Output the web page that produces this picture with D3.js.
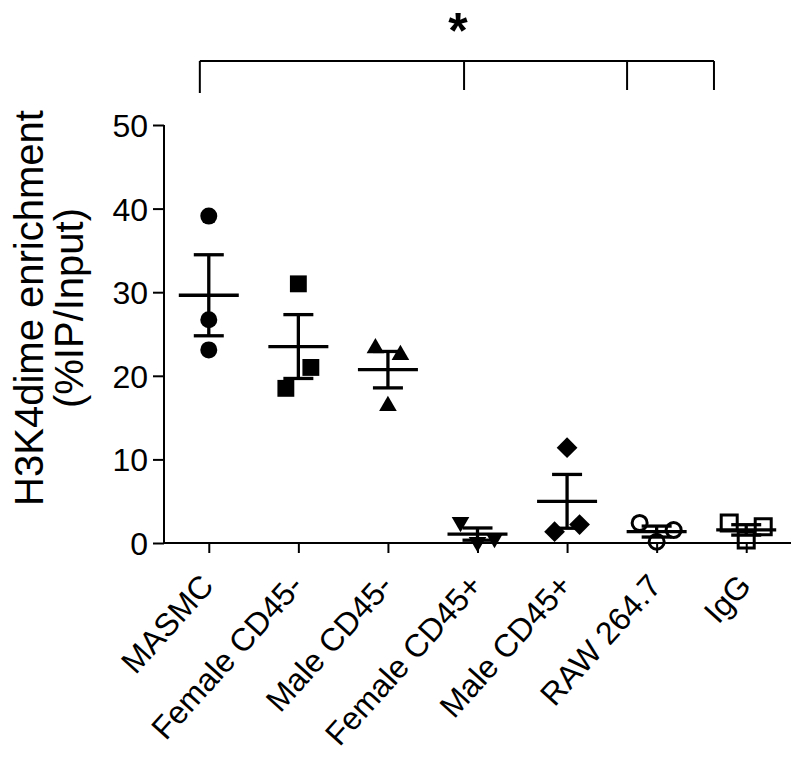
<!DOCTYPE html>
<html><head><meta charset="utf-8">
<script src="https://cdn.jsdelivr.net/npm/d3@7"></script>
<style>body{margin:0;background:#fff}svg{display:block}text{font-family:"Liberation Sans",Arial,sans-serif;fill:#000}</style>
</head><body><svg id="c" width="800" height="758"></svg>
<script>
const categories = ["MASMC","Female CD45-","Male CD45-","Female CD45+","Male CD45+","RAW 264.7","IgG"];
const values = [
  [39.1, 26.7, 23.1],
  [31.0, 18.5, 21.0],
  [23.3, 22.5, 16.4],
  [0.1, 2.5, 0.6],
  [11.4, 1.35, 2.2],
  [0.15, 2.4, 1.55],
  [0.35, 2.4, 1.95]
];
const markers = ["circle","square","triangle","triangleDown","diamond","circleOpen","squareOpen"];
const yTicks = [0, 10, 20, 30, 40, 50];
const yTitle = ["H3K4dime enrichment", "(%IP/Input)"];
const bracketAt = [-0.1, 2.85, 4.67, 5.64];   // category index units
const significance = "*";

const svg = d3.select("#c");
const x = d3.scalePoint().domain(categories).range([164, 791]).padding(0.5);
const xi = d3.scaleLinear().domain([0, categories.length - 1]).range([x(categories[0]), x(categories[categories.length-1])]);
const y = d3.scaleLinear().domain([0, 50]).range([543, 125]);

// axes
const yAxis = svg.append("g").attr("transform", "translate(164,0)")
  .call(d3.axisLeft(y).tickValues(yTicks).tickSize(11).tickSizeOuter(0).tickPadding(5));
yAxis.select(".domain").attr("stroke", "#000").attr("stroke-width", 2).attr("d", `M0,${y(0)}V${y(50)}`);
yAxis.selectAll(".tick line").attr("stroke", "#000").attr("stroke-width", 2);
yAxis.selectAll(".tick text").style("font-size", "32px").attr("dy", "0.36em");

const xAxis = svg.append("g").attr("transform", `translate(0,${y(0)})`)
  .call(d3.axisBottom(x).tickSize(10).tickSizeOuter(0));
xAxis.select(".domain").attr("stroke", "#000").attr("stroke-width", 2).attr("d", "M164,0H791");
xAxis.selectAll(".tick line").attr("stroke", "#000").attr("stroke-width", 2);
xAxis.selectAll(".tick text")
  .style("font-size", "32px")
  .attr("text-anchor", "end")
  .attr("dy", null).attr("y", 0)
  .attr("transform", "translate(6,44) rotate(-48)");

// y title
const tt = svg.append("text").attr("transform", "translate(0,308) rotate(-90)").attr("text-anchor", "middle").style("font-size", "40px");
yTitle.forEach((t, i) => tt.append("tspan").attr("x", 0).attr("y", 43 + i * 40).text(t));

// jitter layout (clusters of overlapping points spread horizontally, in data order)
const thresh = 25;
const points = [];
values.forEach((vals, gi) => {
  const idx = vals.map((v, i) => i).sort((a, b) => vals[b] - vals[a]);
  const clusters = [];
  idx.forEach(i => {
    const last = clusters[clusters.length - 1];
    if (last && Math.abs(y(vals[i]) - y(vals[last[last.length - 1]])) < thresh) last.push(i);
    else clusters.push([i]);
  });
  clusters.forEach(cl => {
    cl.sort((a, b) => a - b);
    const n = cl.length;
    cl.forEach((i, k) => {
      let off = 0;
      if (n % 2 === 1) { if (k > 0) off = (k % 2 === 1 ? -1 : 1) * Math.ceil(k / 2) * 17; }
      else { off = (k % 2 === 0 ? -1 : 1) * (Math.floor(k / 2) + 0.5) * 25; }
      points.push({g: gi, v: vals[i], dx: off});
    });
  });
});

const sym = {
  circle: {type: d3.symbolCircle, size: 227, fill: true, rot: 0},
  square: {type: d3.symbolSquare, size: 285, fill: true, rot: 0},
  triangle: {type: d3.symbolTriangle, size: 135, fill: true, rot: 0},
  triangleDown: {type: d3.symbolTriangle, size: 135, fill: true, rot: 180},
  diamond: {type: d3.symbolSquare, size: 215, fill: true, rot: 45},
  circleOpen: {type: d3.symbolCircle, size: 177, fill: false, rot: 0},
  squareOpen: {type: d3.symbolSquare, size: 256, fill: false, rot: 0}
};

svg.append("g").selectAll("path").data(points).join("path")
  .attr("d", d => d3.symbol(sym[markers[d.g]].type, sym[markers[d.g]].size)())
  .attr("transform", d => `translate(${x(categories[d.g]) + d.dx},${y(d.v)}) rotate(${sym[markers[d.g]].rot})`)
  .attr("fill", d => sym[markers[d.g]].fill ? "#000" : "none")
  .attr("stroke", "#000")
  .attr("stroke-width", d => sym[markers[d.g]].fill ? 0 : 3);

// mean ± SEM
const stats = values.map((vals, gi) => {
  const m = d3.mean(vals), s = d3.deviation(vals) / Math.sqrt(vals.length);
  return {g: gi, m, lo: m - s, hi: m + s};
});
const eb = svg.append("g").attr("stroke", "#000").attr("stroke-width", 3.3);
stats.forEach(d => {
  const cx = x(categories[d.g]);
  eb.append("line").attr("x1", cx - 30).attr("x2", cx + 30).attr("y1", y(d.m)).attr("y2", y(d.m));
  eb.append("line").attr("x1", cx).attr("x2", cx).attr("y1", y(d.lo)).attr("y2", y(d.hi));
  eb.append("line").attr("x1", cx - 15).attr("x2", cx + 15).attr("y1", y(d.hi)).attr("y2", y(d.hi));
  eb.append("line").attr("x1", cx - 15).attr("x2", cx + 15).attr("y1", y(d.lo)).attr("y2", y(d.lo));
});

// significance bracket
const br = svg.append("g").attr("stroke", "#000").attr("stroke-width", 2);
const by = 61;
br.append("line").attr("x1", xi(bracketAt[0])).attr("x2", xi(bracketAt[bracketAt.length - 1])).attr("y1", by).attr("y2", by);
bracketAt.forEach((b, i) => br.append("line").attr("x1", xi(b)).attr("x2", xi(b)).attr("y1", by).attr("y2", by + (i === 0 ? 32 : 29)));
svg.append("text").attr("x", xi(bracketAt[1]) - 6).attr("y", 48).attr("text-anchor", "middle")
  .style("font-size", "50px").style("font-weight", "bold").text(significance);
</script></body></html>
